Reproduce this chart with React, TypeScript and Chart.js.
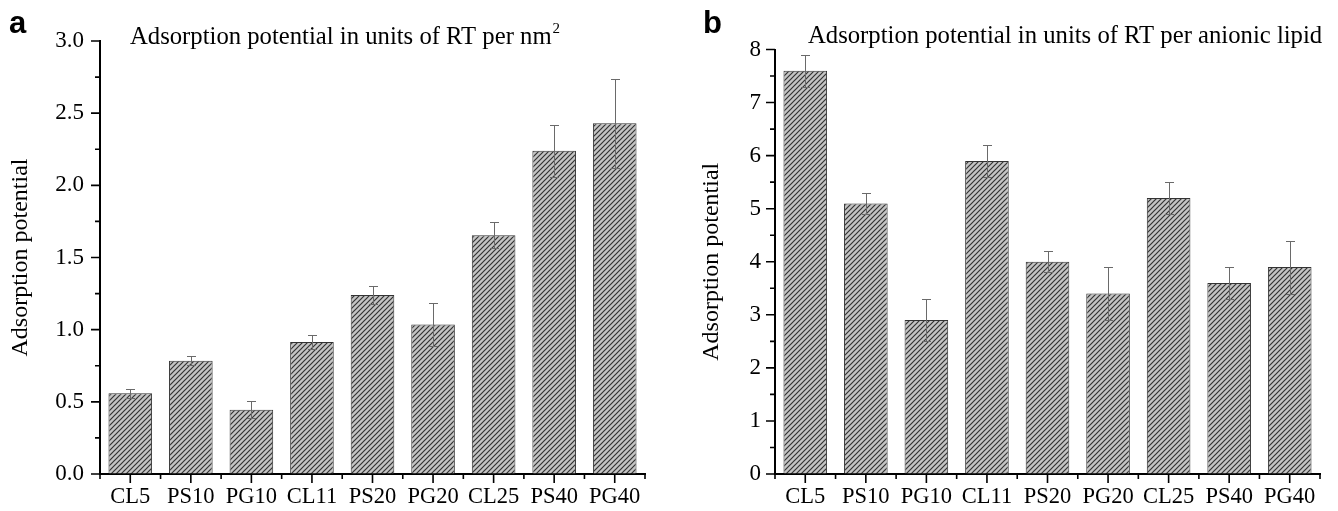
import React, { useEffect, useRef } from 'react';
import { Chart, registerables } from 'chart.js';
Chart.register(...registerables);

const categories = ['CL5', 'PS10', 'PG10', 'CL11', 'PS20', 'PG20', 'CL25', 'PS40', 'PG40'];
const perAreaValues = [0.56, 0.785, 0.445, 0.915, 1.24, 1.035, 1.655, 2.24, 2.43];
const perAreaErrors = [0.03, 0.03, 0.06, 0.05, 0.06, 0.15, 0.09, 0.18, 0.31];
const perLipidValues = [7.6, 5.1, 2.9, 5.9, 4.0, 3.4, 5.2, 3.6, 3.9];
const perLipidErrors = [0.3, 0.2, 0.4, 0.3, 0.2, 0.5, 0.3, 0.3, 0.5];
const yTitle = 'Adsorption potential';
const titleA = 'Adsorption potential in units of RT per nm';
const titleASup = '2';
const titleB = 'Adsorption potential in units of RT per anionic lipid';

const SERIF = "'Liberation Serif', 'Times New Roman', serif";
const SANS = "'Liberation Sans', Arial, sans-serif";

function makeHatch(): CanvasPattern | string {
  const s = 5;
  const c = document.createElement('canvas');
  c.width = s;
  c.height = s;
  const g = c.getContext('2d');
  if (!g) return '#999';
  g.fillStyle = '#c4c4c4';
  g.fillRect(0, 0, s, s);
  g.strokeStyle = '#333333';
  g.lineWidth = 1.2;
  g.beginPath();
  g.moveTo(-1, s + 1);
  g.lineTo(s + 1, -1);
  g.moveTo(-1, 1);
  g.lineTo(1, -1);
  g.moveTo(s - 1, s + 1);
  g.lineTo(s + 1, s - 1);
  g.stroke();
  const p = g.createPattern(c, 'repeat');
  return p || '#999';
}

interface PanelProps {
  left: number;
  width: number;
  values: number[];
  errors: number[];
  yMax: number;
  yStep: number;
  decimals: number;
  padTop: number;
  padRight: number;
  labelPad: number;
  yTitlePad: number;
  letter: string;
  letterX: number;
  title: string;
  titleX: number;
  titleY: number;
  sup?: string;
}

function Panel(p: PanelProps) {
  const ref = useRef<HTMLCanvasElement | null>(null);
  useEffect(() => {
    if (!ref.current) return;
    const decor = {
      id: 'decor',
      afterDatasetsDraw(chart: any) {
        const ctx = chart.ctx;
        const xs = chart.scales.x;
        const ys = chart.scales.y;
        ctx.save();
        ctx.strokeStyle = '#6a6a6a';
        ctx.lineWidth = 1;
        p.values.forEach((v, i) => {
          const e = p.errors[i];
          const xc = Math.round(xs.getPixelForValue(i)) + 0.5;
          const yt = Math.round(ys.getPixelForValue(v + e)) + 0.5;
          const yb = Math.round(ys.getPixelForValue(v - e)) + 0.5;
          ctx.beginPath();
          ctx.moveTo(xc, yt);
          ctx.lineTo(xc, yb);
          ctx.moveTo(xc - 4.5, yt);
          ctx.lineTo(xc + 4.5, yt);
          ctx.moveTo(xc - 4.5, yb);
          ctx.lineTo(xc + 4.5, yb);
          ctx.stroke();
        });
        ctx.restore();
      },
      afterDraw(chart: any) {
        const ctx = chart.ctx;
        const xs = chart.scales.x;
        const ys = chart.scales.y;
        const area = chart.chartArea;
        ctx.save();
        ctx.strokeStyle = '#000';
        ctx.lineWidth = 1.6;
        ctx.beginPath();
        const half = p.yStep / 2;
        for (let v = 0; v <= p.yMax + 1e-9; v += half) {
          const yy = ys.getPixelForValue(v);
          const major = Math.abs(v / p.yStep - Math.round(v / p.yStep)) < 1e-6;
          const len = major ? 9 : 5;
          ctx.moveTo(area.left, yy);
          ctx.lineTo(area.left - len, yy);
        }
        const n = categories.length;
        for (let i = 0; i < n; i++) {
          const xc = xs.getPixelForValue(i);
          ctx.moveTo(xc, area.bottom);
          ctx.lineTo(xc, area.bottom + 9);
        }
        for (let i = 0; i <= n; i++) {
          const xb = xs.getPixelForValue(i - 0.5);
          ctx.moveTo(xb, area.bottom);
          ctx.lineTo(xb, area.bottom + 5);
        }
        ctx.stroke();
        ctx.fillStyle = '#000';
        ctx.textBaseline = 'alphabetic';
        ctx.textAlign = 'left';
        ctx.font = `bold 31px ${SANS}`;
        ctx.fillText(p.letter, p.letterX, 33);
        ctx.font = `24.7px ${SERIF}`;
        ctx.fillText(p.title, p.titleX, p.titleY);
        if (p.sup) {
          const w = ctx.measureText(p.title).width;
          ctx.font = `15px ${SERIF}`;
          ctx.fillText(p.sup, p.titleX + w + 1, p.titleY - 11);
        }
        ctx.restore();
      },
    };
    const chart = new Chart(ref.current, {
      type: 'bar',
      data: {
        labels: categories,
        datasets: [
          {
            data: p.values,
            backgroundColor: makeHatch() as any,
            borderColor: '#333',
            borderWidth: 1,
            categoryPercentage: 1,
            barPercentage: 0.72,
          },
        ],
      },
      plugins: [decor],
      options: {
        responsive: false,
        maintainAspectRatio: false,
        animation: false,
        devicePixelRatio: 1,
        layout: { padding: { left: 0, top: p.padTop, right: p.padRight, bottom: 0 } },
        plugins: { legend: { display: false }, tooltip: { enabled: false }, title: { display: false } },
        scales: {
          x: {
            type: 'category',
            offset: true,
            grid: { display: true, drawOnChartArea: false, drawTicks: false },
            border: { display: true, color: '#000', width: 2 },
            ticks: { color: '#000', font: { family: SERIF, size: 22.5 }, padding: 10, maxRotation: 0, autoSkip: false },
            afterFit: (s: any) => {
              s.height = 37;
            },
          },
          y: {
            min: 0,
            max: p.yMax,
            grid: { display: true, drawOnChartArea: false, drawTicks: false },
            border: { display: true, color: '#000', width: 2 },
            ticks: {
              stepSize: p.yStep,
              color: '#000',
              font: { family: SERIF, size: 23 },
              padding: p.labelPad,
              callback: (v: any) => Number(v).toFixed(p.decimals),
            },
            title: {
              display: true,
              text: yTitle,
              color: '#000',
              font: { family: SERIF, size: 24 },
              padding: { top: p.yTitlePad, bottom: 0 },
            },
            afterFit: (s: any) => {
              s.width = 100;
            },
          },
        },
      },
    } as any);
    return () => chart.destroy();
  }, []);
  return (
    <canvas
      ref={ref}
      width={p.width}
      height={511}
      style={{ position: 'absolute', left: p.left, top: 0, width: p.width, height: 511 }}
    />
  );
}

export default function App() {
  return (
    <div style={{ position: 'fixed', left: 0, top: 0, width: 1338, height: 511, background: '#fff', overflow: 'hidden' }}>
      <Panel
        left={0}
        width={660}
        values={perAreaValues}
        errors={perAreaErrors}
        yMax={3}
        yStep={0.5}
        decimals={1}
        padTop={41}
        padRight={15}
        labelPad={16}
        yTitlePad={6}
        letter="a"
        letterX={9}
        title={titleA}
        titleX={130}
        titleY={44}
        sup={titleASup}
      />
      <Panel
        left={675}
        width={663}
        values={perLipidValues}
        errors={perLipidErrors}
        yMax={8}
        yStep={1}
        decimals={0}
        padTop={49.5}
        padRight={18}
        labelPad={14}
        yTitlePad={22}
        letter="b"
        letterX={28}
        title={titleB}
        titleX={133}
        titleY={43}
      />
    </div>
  );
}
